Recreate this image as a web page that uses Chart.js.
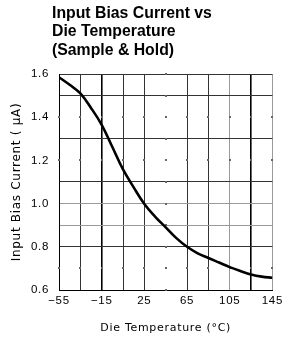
<!DOCTYPE html>
<html>
<head>
<meta charset="utf-8">
<script src="https://cdn.jsdelivr.net/npm/chart.js@4/dist/chart.umd.min.js"></script>
<style>
  html, body { margin: 0; padding: 0; background: #fff; }
  #wrap { position: relative; width: 286px; height: 341px; }
  #title {
    position: absolute; left: 52px; top: 4px;
    font: bold 17px "Liberation Sans", Arial, sans-serif;
    line-height: 18.3px; color: #000;
    transform: scaleX(0.93); transform-origin: left top;
    white-space: nowrap;
  }
</style>
</head>
<body>
<div id="wrap">
  <canvas id="chart"></canvas>
  <div id="title">Input Bias Current vs<br>Die Temperature<br>(Sample &amp; Hold)</div>
</div>
<script>
// die temperature (°C) and input bias current (µA)
const temps = [-55, -45, -35, -25, -15, -5, 5, 15, 25, 35, 45, 55, 65, 75, 85, 95, 105, 115, 125, 135, 145];
const currents = [1.585, 1.55, 1.51, 1.443, 1.365, 1.262, 1.158, 1.075, 0.998, 0.94, 0.89, 0.84, 0.80, 0.77, 0.748, 0.727, 0.706, 0.688, 0.672, 0.662, 0.657];

// axis ticks
const xTicks = [-55, -35, -15, 5, 25, 45, 65, 85, 105, 125, 145];
const xLabels = [-55, -15, 25, 65, 105, 145];
const yTicks = [0.6, 0.7, 0.8, 0.9, 1.0, 1.1, 1.2, 1.3, 1.4, 1.5, 1.6];
const yLabels = [0.6, 0.8, 1.0, 1.2, 1.4, 1.6];

// grid quirks of the original plot
const xDotted = [45];
const yDotted = [0.7, 1.2, 1.4];
const xGray = [105, 145];
const xBold = [-15, 125];
const yGray = [0.9, 1.0];

const has = (list, v) => list.some(a => Math.abs(a - v) < 1e-6);

function gridColor(dotted, gray, bold) {
  return ctx => {
    const v = ctx.tick ? ctx.tick.value : null;
    if (v === null) return '#333';
    if (has(dotted, v)) return 'rgba(0,0,0,0)';
    if (has(gray, v)) return '#9a9a9a';
    if (has(bold, v)) return '#000';
    return '#333';
  };
}

// small dots where the original only has tick dots instead of lines
const gridDots = {
  id: 'gridDots',
  beforeDraw(chart) {
    chart.ctx.letterSpacing = '0.7px';
  },
  beforeDatasetsDraw(chart) {
    const { ctx, scales: { x, y } } = chart;
    ctx.save();
    ctx.fillStyle = '#666';
    xDotted.forEach(xv => {
      const px = Math.round(x.getPixelForValue(xv));
      yTicks.forEach(yv => {
        const py = Math.round(y.getPixelForValue(yv));
        ctx.fillRect(px - 1, py - 1, 2, 2);
      });
    });
    yDotted.forEach(yv => {
      const py = Math.round(y.getPixelForValue(yv));
      xTicks.forEach(xv => {
        const px = Math.round(x.getPixelForValue(xv));
        ctx.fillRect(px - 1, py - 1, 2, 2);
      });
    });
    ctx.restore();
  }
};

new Chart(document.getElementById('chart'), {
  type: 'line',
  data: {
    datasets: [{
      data: temps.map((t, i) => ({ x: t, y: currents[i] })),
      borderColor: '#000',
      borderWidth: 2.6,
      pointRadius: 0,
      tension: 0.4,
      fill: false,
    }],
  },
  options: {
    responsive: true,
    maintainAspectRatio: false,
    animation: false,
    layout: { padding: { top: 74, right: 11, left: 0, bottom: 0 } },
    plugins: {
      legend: { display: false },
      tooltip: { enabled: false },
    },
    scales: {
      x: {
        type: 'linear',
        min: -55,
        max: 145,
        afterBuildTicks: s => { s.ticks = xTicks.map(v => ({ value: v })); },
        afterFit: s => { s.height = 51; },
        ticks: {
          autoSkip: false,
          maxRotation: 0,
          padding: 4,
          color: '#000',
          font: { family: 'Liberation Sans', size: 11.5 },
          callback: v => has(xLabels, v) ? String(v).replace('-', '\u2212') : '',
        },
        grid: {
          drawTicks: false,
          color: gridColor(xDotted, xGray, xBold),
          lineWidth: ctx => (ctx.tick && has(xBold, ctx.tick.value)) ? 1.6 : 1,
        },
        border: { display: true, color: '#000', width: 1 },
        title: {
          display: true,
          text: 'Die Temperature (\u00B0C)',
          color: '#000',
          font: { family: 'DejaVu Sans', size: 11 },
          padding: { top: 0, bottom: 6 },
        },
      },
      y: {
        min: 0.6,
        max: 1.6,
        afterBuildTicks: s => { s.ticks = yTicks.map(v => ({ value: v })); },
        afterFit: s => { s.width = 59; },
        ticks: {
          padding: 10,
          color: '#000',
          font: { family: 'Liberation Sans', size: 11.5 },
          callback: v => has(yLabels, v) ? v.toFixed(1) : '',
        },
        grid: {
          drawTicks: false,
          color: gridColor(yDotted, yGray, []),
        },
        border: { display: true, color: '#000', width: 1 },
        title: {
          display: true,
          text: 'Input Bias Current ( \u03BCA)',
          color: '#000',
          font: { family: 'DejaVu Sans', size: 12 },
          padding: { top: 10, bottom: 0 },
        },
      },
    },
  },
  plugins: [gridDots],
});
</script>
</body>
</html>
